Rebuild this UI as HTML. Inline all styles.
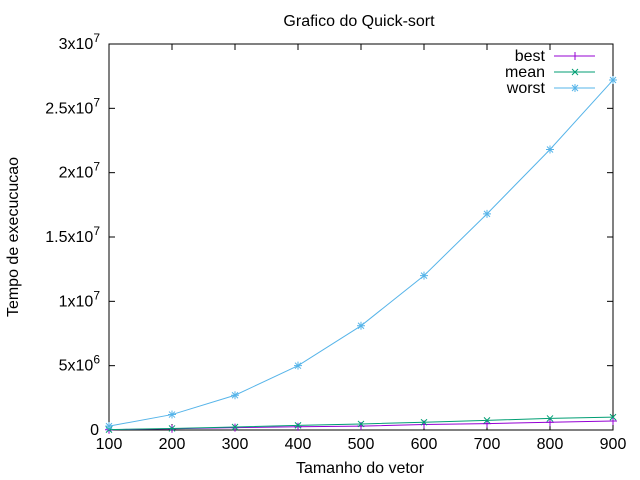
<!DOCTYPE html>
<html><head><meta charset="utf-8"><style>body{margin:0;background:#fff}svg{display:block;font-family:"Liberation Sans",sans-serif}</style></head>
<body>
<svg id="chart" width="640" height="480" viewBox="0 0 640 480" xmlns="http://www.w3.org/2000/svg">
<text x="359" y="26" font-size="16" text-anchor="middle">Grafico do Quick-sort</text>
<text x="360" y="473" font-size="16" text-anchor="middle">Tamanho do vetor</text>
<text transform="translate(18,237) rotate(-90)" font-size="16" text-anchor="middle">Tempo de execucucao</text>
<g id="axes"></g>
<g id="series"></g>
<g id="legend"></g>
</svg>
<script>
const xValues=[100,200,300,400,500,600,700,800,900];
const bestValues=[0.02e6,0.1e6,0.18e6,0.25e6,0.3e6,0.43e6,0.5e6,0.6e6,0.7e6];
const meanValues=[0.03e6,0.12e6,0.23e6,0.36e6,0.47e6,0.6e6,0.75e6,0.9e6,1.0e6];
const worstValues=[0.3e6,1.2e6,2.7e6,5.0e6,8.1e6,12.0e6,16.8e6,21.8e6,27.2e6];
const xTicks=[100,200,300,400,500,600,700,800,900];
const yTicks=[0,5e6,1e7,1.5e7,2e7,2.5e7,3e7];
const yTickLabels=[["0",""],["5x10","6"],["1x10","7"],["1.5x10","7"],["2x10","7"],["2.5x10","7"],["3x10","7"]];
const L=109,R=613,T=44,B=430;
const sx=v=>L+(v-100)/800*(R-L);
const sy=v=>B-v/3e7*(B-T);
const NS="http://www.w3.org/2000/svg";
function mk(tag,attrs,parent){const e=document.createElementNS(NS,tag);for(const k in attrs)e.setAttribute(k,attrs[k]);parent.appendChild(e);return e;}
const axes=document.getElementById('axes');
xTicks.forEach((t,i)=>{const x=sx(t);
 const a=mk('line',{x1:x,x2:x,y1:B,y2:B-6,stroke:'#000'},axes);
 
 
 const b=mk('line',{x1:x,x2:x,y1:T,y2:T+6,stroke:'#000'},axes);
 
 
 const tx=mk('text',{x:x,y:B+19,'font-size':16,'text-anchor':'middle'},axes);tx.textContent=t;
 
 
});
yTicks.forEach((t,i)=>{const y=sy(t);
 const a=mk('line',{x1:L,x2:L+6,y1:y,y2:y,stroke:'#000'},axes);
 
 
 const b=mk('line',{x1:R,x2:R-6,y1:y,y2:y,stroke:'#000'},axes);
 
 
 const tx=mk('text',{x:99,y:y+5,'font-size':16,'text-anchor':'end'},axes);
 
 
 const lab=yTickLabels[i];
 if(lab[1]){tx.setAttribute('x',100);const s=document.createElementNS(NS,'tspan');s.textContent=lab[0];tx.appendChild(s);
  const sup=document.createElementNS(NS,'tspan');sup.setAttribute('dy',-7);sup.setAttribute('font-size',12);sup.textContent=lab[1];tx.appendChild(sup);}
 else tx.textContent=lab[0];
});
const frame=mk('rect',{x:L,y:T,width:R-L,height:B-T,fill:'none',stroke:'#000'},axes);


function marker(g,x,y,type,color){
 const p=[];
 if(type!=='x')p.push(`M${x-4},${y}H${x+4}M${x},${y-4}V${y+4}`);
 if(type!=='plus')p.push(`M${x-3},${y-3}L${x+3},${y+3}M${x-3},${y+3}L${x+3},${y-3}`);
 const m=mk('path',{d:p.join(''),stroke:color,fill:'none'},g);
 
 
}
const ser=document.getElementById('series');
const leg=document.getElementById('legend');
const defs=[["best",bestValues,"#9400d3","plus"],["mean",meanValues,"#009e73","x"],["worst",worstValues,"#56b4e9","star"]];
defs.forEach((d,k)=>{
 const g=mk('g',{},ser);
 
 
 const pts=xValues.map((x,i)=>sx(x)+','+sy(d[1][i])).join(' ');
 const pl=mk('polyline',{points:pts,fill:'none',stroke:d[2],'stroke-width':1},g);
 
 
 xValues.forEach((x,i)=>marker(g,sx(x),sy(d[1][i]),d[3],d[2]));
 const ly=56+k*16;
 const le=mk('g',{},leg);
 
 
 const t=mk('text',{x:545,y:ly+5,'font-size':16,'text-anchor':'end'},le);t.textContent=d[0];
 mk('line',{x1:554,x2:595,y1:ly,y2:ly,stroke:d[2]},le);
 marker(le,575,ly,d[3],d[2]);
});
</script>
</body></html>
